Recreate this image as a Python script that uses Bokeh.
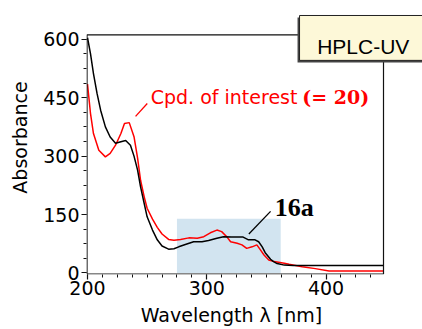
from bokeh.plotting import figure
from bokeh.models import Range1d, Label, FixedTicker
from bokeh.embed import file_html
from bokeh.resources import INLINE

# ---- data ----
wl_16a = [200, 202.5, 205, 208, 211, 215, 219, 223.5, 228, 232, 236, 239, 242, 244.5,
          247.5, 250, 254.5, 258.5, 262.5, 268, 272.5, 276.5, 282, 289, 296, 301.5,
          308.5, 314, 321, 326.5, 330.5, 335, 340.5, 343.5, 346.5, 349, 353.5, 356,
          359, 365, 372.5, 448]
abs_16a = [604, 563, 512, 461, 418, 375, 349, 333, 337, 340, 328, 300, 264, 221,
           179, 144, 110, 85, 69, 61, 62, 67, 73, 80, 80, 83,
           89, 93, 92, 92, 92, 85, 85, 80, 67, 52, 35, 29,
           24, 20, 19, 19]

wl_20 = [200, 202.5, 205, 209.5, 215, 219, 223.5, 228, 231, 235, 239, 242, 244.5,
         247.5, 250, 254.5, 258.5, 262.5, 268, 272.5, 278, 285, 292, 297.5, 303,
         308.5, 312.5, 317, 320, 325.5, 329.5, 333.5, 338, 342, 345, 348, 352,
         356.5, 365, 369, 380, 391, 402.5, 448]
abs_20 = [485, 410, 358, 315, 298, 307, 328, 358, 384, 386, 350, 295, 238,
          196, 166, 138, 117, 100, 86, 84, 86, 90, 89, 93, 103,
          110, 106, 92, 80, 76, 72, 63, 67, 72, 59, 46, 33,
          29, 25, 22, 16, 11, 5, 5]

x_ticks = [200, 300, 400]
y_ticks = [0, 150, 300, 450, 600]
x_minor = [200 + 12.5 * i for i in range(20)]
y_minor = [37.5 * i for i in range(17)]

roi_nm = [275, 362]      # highlighted wavelength window
roi_top = [139]

label_20 = "Cpd. of interest"
label_20b = "(= 20)"
label_16a = "16a"
title_box = "HPLC-UV"
x_title = "Wavelength λ [nm]"
y_title = "Absorbance"

# plot box limits (nm, absorbance)
box_x = [199.6, 448.2]
box_y = [-2.8, 611.6]

# leader lines (nm, absorbance)
lead_20_x = [240.3, 250.1]
lead_20_y = [402, 435]
lead_16a_x = [335.3, 353.5]
lead_16a_y = [100, 158]

# tag box (nm, absorbance)
tag_x = [377.8, 481]
tag_y = [545.9, 661.2]

p = figure(width=422, height=329, output_backend="svg", toolbar_location=None,
           x_range=Range1d(199.16, 480.9), y_range=Range1d(-4.1, 699.7),
           min_border_left=86, min_border_right=0, min_border_top=0,
           min_border_bottom=55)
p.xgrid.visible = False
p.ygrid.visible = False
p.outline_line_color = None
p.background_fill_color = "white"
p.border_fill_color = "white"

p.quad(left=[roi_nm[0]], right=[roi_nm[1]], bottom=[0], top=roi_top,
       fill_color="#d2e4f0", line_color=None)

p.line(wl_20, abs_20, line_color="#ff0000", line_width=1.5)
p.line(wl_16a, abs_16a, line_color="#000000", line_width=1.5)

p.line(lead_20_x, lead_20_y, line_color="#ff0000", line_width=1.3)
p.line(lead_16a_x, lead_16a_y, line_color="#000000", line_width=1.3)

# plot box
p.line([box_x[0], box_x[0], box_x[1], box_x[1], box_x[0]],
       [box_y[0], box_y[1], box_y[1], box_y[0], box_y[0]],
       line_color="#111111", line_width=1.2)

# HPLC-UV tag with shadow
px_nm = 1 / 1.1925
px_ab = 1 / 0.3893
p.quad(left=[tag_x[0] - 2 * px_nm], right=[tag_x[1]],
       bottom=[tag_y[0] - 2 * px_ab], top=[tag_y[1] - 2 * px_ab],
       fill_color="#444444", line_color=None)
p.quad(left=[tag_x[0]], right=[tag_x[1]], bottom=[tag_y[0]], top=[tag_y[1]],
       fill_color="#fdf8d8", line_color="#222222", line_width=1)

for ax in (p.xaxis[0], p.yaxis[0]):
    ax.axis_line_color = None
    ax.major_tick_line_color = "#111111"
    ax.minor_tick_line_color = "#111111"
    ax.major_tick_line_width = 1.2
    ax.major_tick_in = 0
    ax.major_tick_out = 5
    ax.minor_tick_in = 0
    ax.minor_tick_out = 3
    ax.major_label_text_font = "DejaVu Sans"
    ax.major_label_text_font_size = "19px"
    ax.major_label_text_color = "black"
    ax.axis_label_text_font = "DejaVu Sans"
    ax.axis_label_text_font_size = "19px"
    ax.axis_label_text_font_style = "normal"
    ax.axis_label_text_color = "black"

p.xaxis.ticker = FixedTicker(ticks=x_ticks, minor_ticks=x_minor)
p.yaxis.ticker = FixedTicker(ticks=y_ticks, minor_ticks=y_minor)
# trailing no-break spaces keep the title centred under the plot box
p.xaxis.axis_label = x_title + "\u00a0" * 7 + "\u2009"
p.yaxis.axis_label = y_title
p.xaxis.major_label_standoff = 1
p.xaxis.axis_label_standoff = 6
p.yaxis.major_label_standoff = 2
p.yaxis.axis_label_standoff = 9

p.add_layout(Label(x=253, y=453, text=label_20, text_color="#ff0000",
                   text_font="DejaVu Sans", text_font_size="19px",
                   text_baseline="alphabetic"))
p.add_layout(Label(x=380, y=453, text=label_20b, text_color="#ff0000",
                   text_font="DejaVu Serif", text_font_size="19px",
                   text_font_style="bold", text_baseline="alphabetic"))
p.add_layout(Label(x=357, y=169, text=label_16a, text_color="black",
                   text_font="Liberation Serif", text_font_size="26px",
                   text_font_style="bold", text_baseline="alphabetic"))
p.add_layout(Label(x=392.6, y=581.6, text=title_box, text_color="black",
                   text_font="Liberation Sans", text_font_size="21px",
                   text_baseline="alphabetic"))

open("out.html", "w").write(file_html(p, INLINE))
